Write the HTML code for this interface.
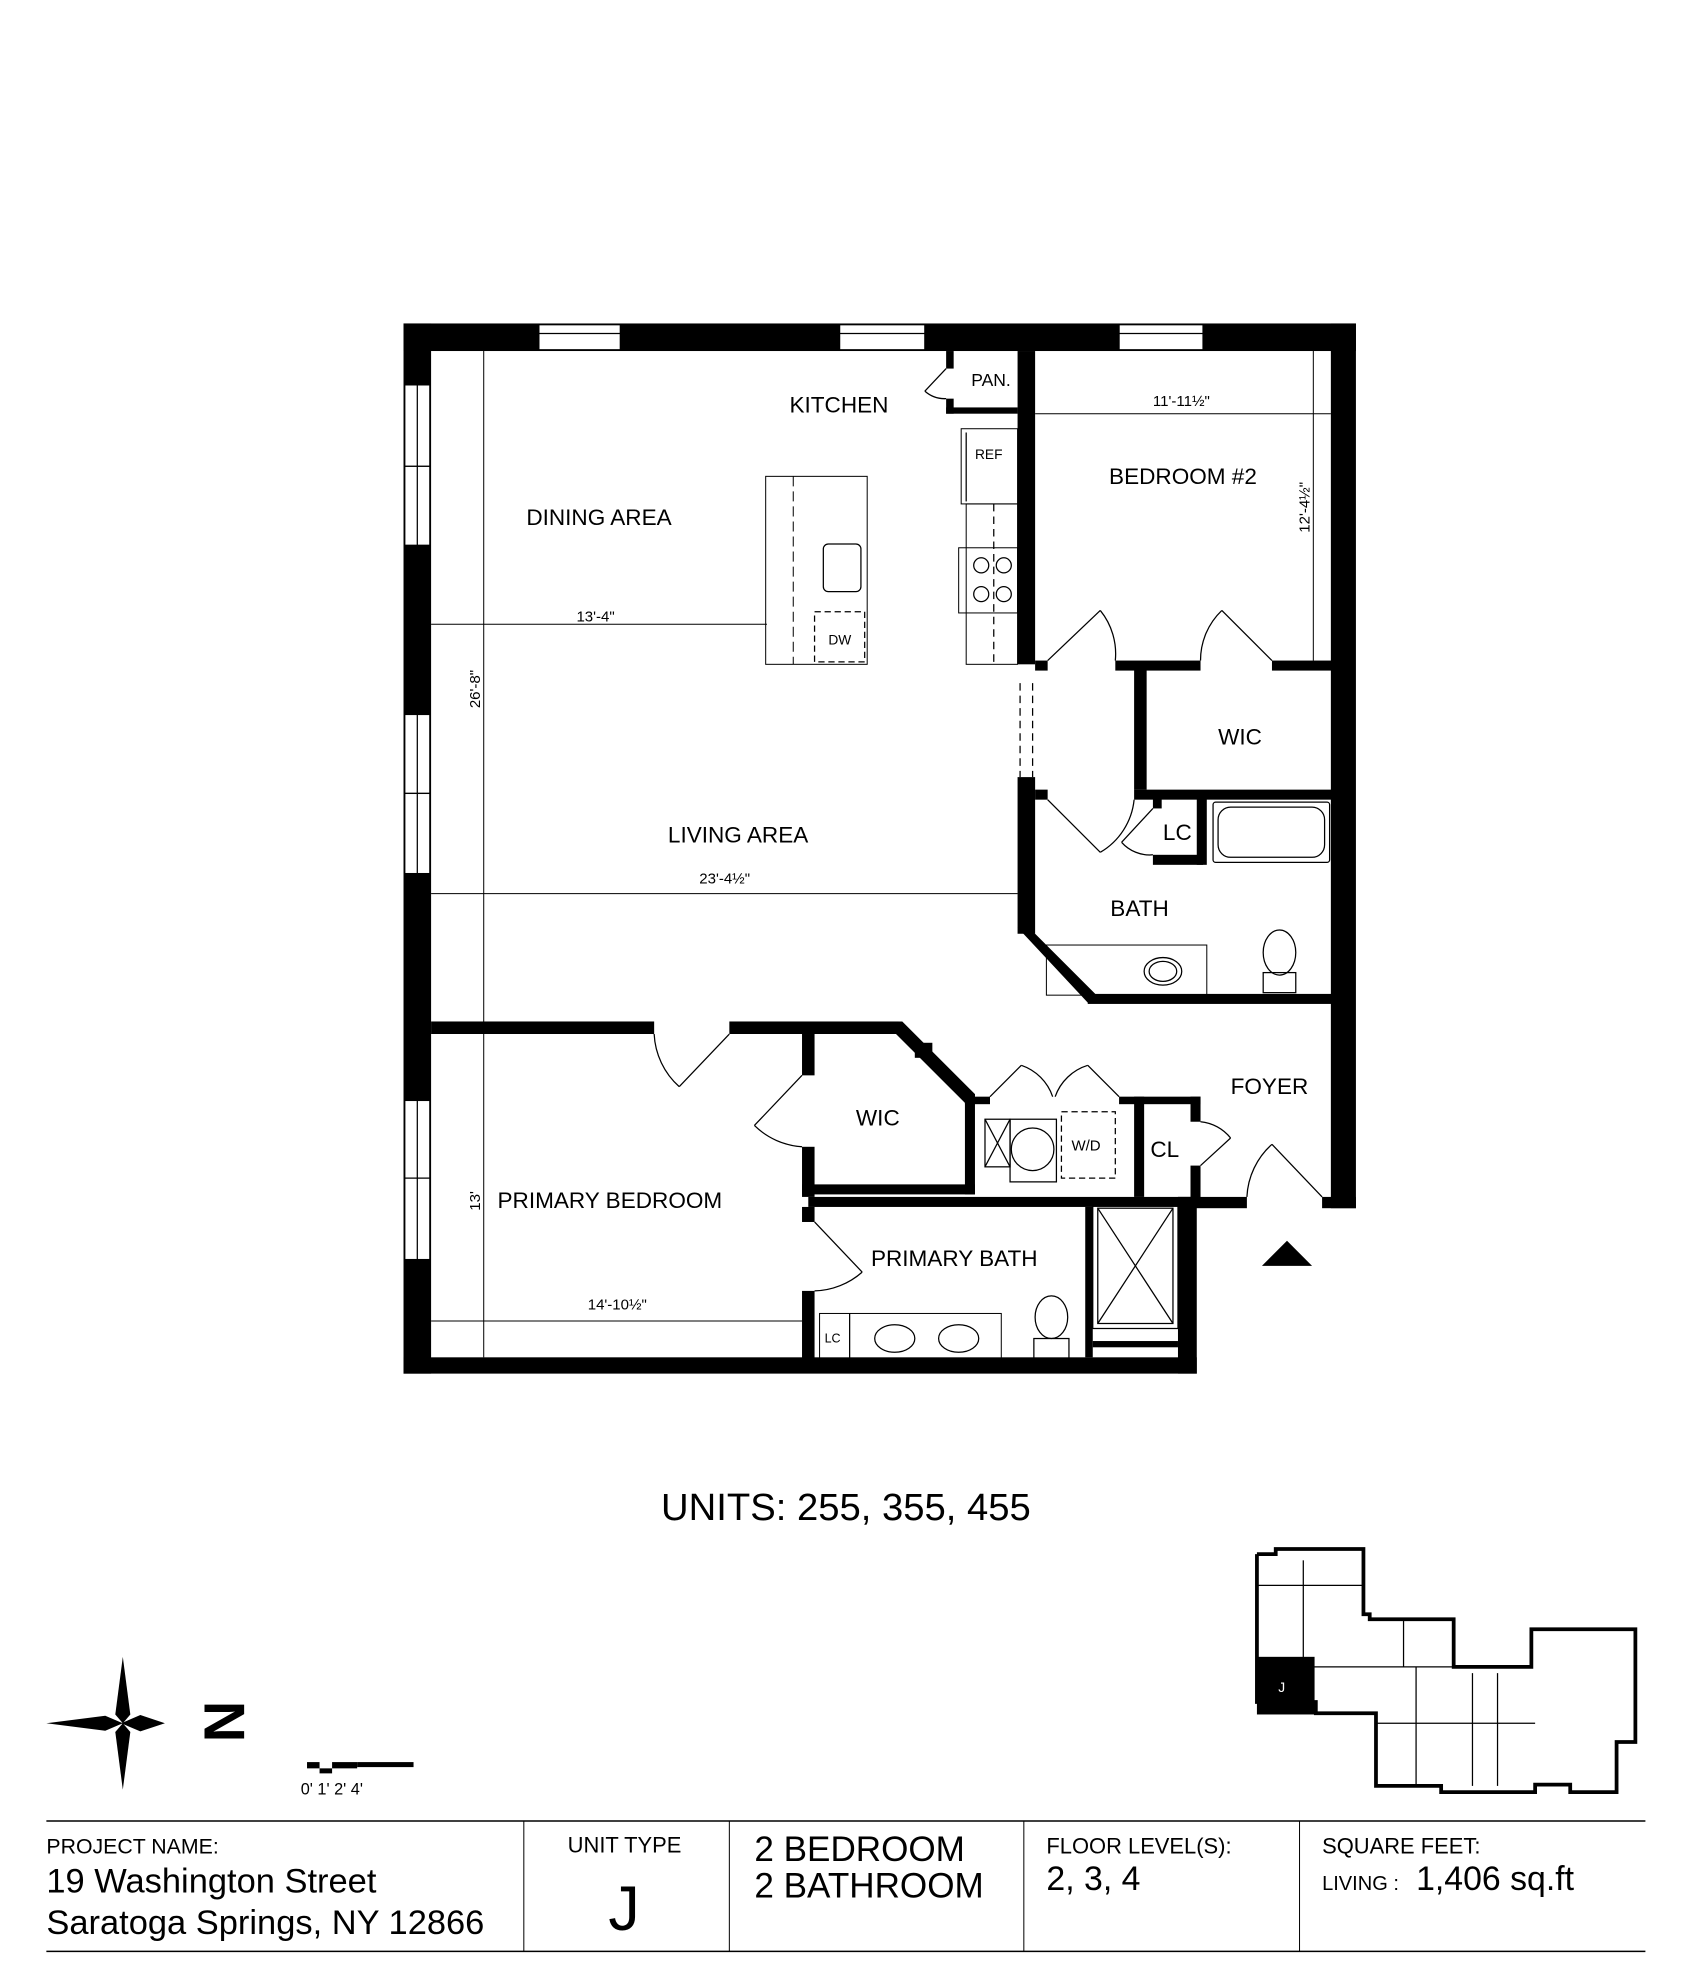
<!DOCTYPE html>
<html><head><meta charset="utf-8"><style>
html,body{margin:0;padding:0;background:#fff}
svg{display:block}
text{font-family:"Liberation Sans",Arial,sans-serif;fill:#000}
</style></head><body>
<svg width="1683" height="1964" viewBox="0 0 1343 1567" xmlns="http://www.w3.org/2000/svg">
<rect width="1343" height="1567" fill="#fff"/>
<g fill="#000">
<rect x="322" y="258" width="760" height="22"/>
<rect x="322" y="258" width="22" height="838"/>
<rect x="322" y="1083" width="633" height="13"/>
<rect x="1062" y="258" width="20" height="706"/>
<rect x="940" y="955" width="15" height="141"/>
<rect x="940" y="955" width="55" height="9"/>
<rect x="1055" y="955" width="27" height="9"/>
<rect x="812" y="280" width="14" height="250"/>
<rect x="812" y="620" width="14" height="125"/>
<polygon points="812,740 826,745 874,793 868,800"/>
<rect x="868" y="793" width="195" height="8"/>
<rect x="755" y="280" width="6" height="14"/>
<rect x="755" y="318" width="6" height="12"/>
<rect x="755" y="325" width="57" height="5"/>
<rect x="826" y="527" width="10" height="8"/>
<rect x="890" y="527" width="68" height="8"/>
<rect x="1015" y="527" width="48" height="8"/>
<rect x="905" y="530" width="10" height="100"/>
<rect x="905" y="630" width="158" height="8"/>
<rect x="826" y="630" width="10" height="8"/>
<rect x="920" y="637" width="7" height="8"/>
<rect x="955" y="637" width="8" height="53"/>
<rect x="920" y="682" width="40" height="8"/>
<rect x="344" y="815" width="178" height="10"/>
<rect x="582" y="815" width="135" height="10"/>
<polygon points="712,815 720,815 778,873 778,880 770,880 712,822"/>
<rect x="730" y="832" width="14" height="12"/>
<rect x="640" y="825" width="10" height="33"/>
<rect x="640" y="915" width="10" height="40"/>
<rect x="640" y="945" width="138" height="8"/>
<rect x="770" y="873" width="8" height="80"/>
<rect x="770" y="875" width="20" height="6"/>
<rect x="893" y="875" width="65" height="6"/>
<rect x="905" y="875" width="8" height="80"/>
<rect x="950" y="875" width="8" height="20"/>
<rect x="950" y="930" width="8" height="33"/>
<rect x="645" y="955" width="310" height="8"/>
<rect x="640" y="963" width="10" height="12"/>
<rect x="640" y="1030" width="10" height="55"/>
<rect x="872" y="1070" width="68" height="5"/>
<rect x="866" y="963" width="6" height="120"/>
</g>
<g fill="#fff" stroke="#000" stroke-width="1">
<rect x="430" y="259" width="65" height="20"/><rect x="670" y="259" width="68" height="20"/><rect x="893" y="259" width="67" height="20"/>
<rect x="323" y="307" width="20" height="65"/><rect x="323" y="372" width="20" height="63"/>
<rect x="323" y="570" width="20" height="63"/><rect x="323" y="633" width="20" height="64"/>
<rect x="323" y="878" width="20" height="62"/><rect x="323" y="940" width="20" height="65"/>
</g>
<g stroke="#000" stroke-width="1" fill="none">
<line x1="430" y1="266" x2="495" y2="266"/><line x1="670" y1="266" x2="738" y2="266"/><line x1="893" y1="266" x2="960" y2="266"/>
<line x1="333" y1="307" x2="333" y2="435"/><line x1="333" y1="570" x2="333" y2="697"/><line x1="333" y1="878" x2="333" y2="1005"/>
<line x1="814" y1="545" x2="814" y2="620" stroke-dasharray="6,4"/><line x1="824" y1="545" x2="824" y2="620" stroke-dasharray="6,4"/>
<line x1="386" y1="280" x2="386" y2="815" stroke-width="0.8"/>
<line x1="386" y1="825" x2="386" y2="1083" stroke-width="0.8"/>
<line x1="344" y1="498" x2="612" y2="498" stroke-width="0.8"/>
<line x1="344" y1="713" x2="812" y2="713" stroke-width="0.8"/>
<line x1="344" y1="1054" x2="640" y2="1054" stroke-width="0.8"/>
<line x1="826" y1="330" x2="1062" y2="330" stroke-width="0.8"/>
<line x1="1048" y1="280" x2="1048" y2="527" stroke-width="0.8"/>
<rect x="611" y="380" width="81" height="150" stroke-width="0.8"/>
<line x1="633" y1="380" x2="633" y2="530" stroke-dasharray="8,4" stroke-width="0.8"/>
<rect x="657" y="434" width="30" height="38" rx="4"/>
<rect x="650" y="488" width="40" height="40" stroke-dasharray="5,3"/>
<rect x="767" y="342" width="45" height="60" stroke-width="0.8"/>
<line x1="771" y1="345" x2="771" y2="400"/>
<rect x="771" y="402" width="41" height="128" stroke-width="0.8"/>
<line x1="793" y1="402" x2="793" y2="530" stroke-dasharray="6,4"/>
<rect x="765" y="437" width="47" height="52" stroke-width="0.8"/>
<circle cx="783" cy="451" r="6"/><circle cx="801" cy="451" r="6"/><circle cx="783" cy="474" r="6"/><circle cx="801" cy="474" r="6"/>
<line x1="755" y1="294" x2="738" y2="312"/><path d="M738,312 A24,24 0 0 0 755,318"/>
<line x1="836" y1="527" x2="878" y2="487"/><path d="M878,487 A55,55 0 0 1 890,527"/>
<line x1="1015" y1="527" x2="975" y2="487"/><path d="M975,487 A55,55 0 0 0 958,527"/>
<line x1="836" y1="638" x2="878" y2="680"/><path d="M878,680 A55,55 0 0 0 905,638"/>
<line x1="920" y1="645" x2="895" y2="672"/><path d="M895,672 A30,30 0 0 0 920,682"/>
<rect x="968" y="640" width="93" height="48" rx="2"/>
<rect x="972" y="644" width="85" height="40" rx="10"/>
<rect x="835" y="754" width="128" height="40" stroke-width="0.8"/>
<ellipse cx="928" cy="775" rx="15" ry="11"/><ellipse cx="928" cy="775" rx="11" ry="8"/>
<ellipse cx="1021" cy="760" rx="13" ry="18"/><rect x="1008" y="776" width="26" height="16"/>
<line x1="582" y1="825" x2="542" y2="867"/><path d="M542,867 A60,60 0 0 1 522,825"/>
<line x1="640" y1="858" x2="602" y2="898"/><path d="M602,898 A60,60 0 0 0 640,915"/>
<line x1="790" y1="875" x2="815" y2="850"/><path d="M815,850 A40,40 0 0 1 840,875"/>
<line x1="893" y1="875" x2="868" y2="850"/><path d="M868,850 A40,40 0 0 0 842,875"/>
<line x1="958" y1="930" x2="982" y2="908"/><path d="M982,908 A35,35 0 0 0 958,895"/>
<line x1="1055" y1="955" x2="1015" y2="913"/><path d="M1015,913 A60,60 0 0 0 995,955"/>
<line x1="650" y1="975" x2="688" y2="1015"/><path d="M688,1015 A60,60 0 0 1 650,1030"/>
<rect x="786" y="893" width="20" height="38"/><line x1="786" y1="893" x2="806" y2="931"/><line x1="806" y1="893" x2="786" y2="931"/>
<rect x="806" y="893" width="37" height="50"/><circle cx="824" cy="917" r="17"/>
<rect x="847" y="887" width="43" height="53" stroke-dasharray="5,3"/>
<rect x="872" y="960" width="68" height="100"/><rect x="876" y="964" width="60" height="92"/>
<line x1="876" y1="964" x2="936" y2="1056"/><line x1="936" y1="964" x2="876" y2="1056"/>
<rect x="654" y="1048" width="145" height="37" stroke-width="0.8"/>
<line x1="678" y1="1048" x2="678" y2="1085"/>
<ellipse cx="714" cy="1068" rx="16" ry="11"/><ellipse cx="765" cy="1068" rx="16" ry="11"/>
<ellipse cx="839" cy="1051" rx="13" ry="17"/><rect x="825" y="1068" width="28" height="16"/>
</g>
<polygon points="1007,1010 1047,1010 1027,990" fill="#000"/>
<g font-size="18">
<text x="630" y="329">KITCHEN</text>
<text x="775" y="308" font-size="14">PAN.</text>
<text x="420" y="419">DINING AREA</text>
<text x="885" y="386">BEDROOM #2</text>
<text x="972" y="594">WIC</text>
<text x="928" y="670">LC</text>
<text x="533" y="672">LIVING AREA</text>
<text x="886" y="731">BATH</text>
<text x="982" y="873">FOYER</text>
<text x="683" y="898">WIC</text>
<text x="918" y="923">CL</text>
<text x="397" y="964">PRIMARY  BEDROOM</text>
<text x="695" y="1010">PRIMARY BATH</text>
</g>
<g font-size="12">
<text x="778" y="366" font-size="11">REF</text>
<text x="661" y="514" font-size="11">DW</text>
<text x="855" y="918" font-size="12">W/D</text>
<text x="658" y="1071" font-size="10">LC</text>
<text x="460" y="496">13'-4"</text>
<text x="558" y="705">23'-4½"</text>
<text x="920" y="324">11'-11½"</text>
<text x="469" y="1045">14'-10½"</text>
<text transform="translate(383,565) rotate(-90)">26'-8"</text>
<text transform="translate(383,966) rotate(-90)">13'</text>
<text transform="translate(1045,425) rotate(-90)">12'-4½"</text>
</g>
<text x="675" y="1213" font-size="30.5" text-anchor="middle">UNITS: 255, 355, 455</text>
<g fill="#000">
<polygon points="98,1322 104,1368 98,1375 92,1368"/>
<polygon points="98,1428 104,1382 98,1375 92,1382"/>
<polygon points="37,1375 84,1369 98,1375 84,1381"/>
<polygon points="130,1375 112,1369 98,1375 112,1381" fill="#fff" stroke="#000"/>
<polygon points="98,1375 112,1369 130,1375 112,1381"/>
</g>
<text x="0" y="0" font-size="46" font-weight="bold" font-family="Liberation Serif" transform="translate(163,1357) rotate(90)">N</text>
<g fill="#000"><rect x="245" y="1406" width="10" height="5"/><rect x="255" y="1411" width="10" height="4"/><rect x="265" y="1406" width="20" height="5"/><rect x="285" y="1406" width="45" height="4"/></g>
<text x="240" y="1432" font-size="13">0'  1'  2'      4'</text>
<g fill="none" stroke="#000" stroke-width="3">
<polyline points="1003,1240 1018,1240 1018,1236 1088,1236 1088,1288 1093,1288 1093,1292 1160,1292 1160,1330 1222,1330 1222,1300 1305,1300 1305,1390 1290,1390 1290,1430 1253,1430 1253,1424 1225,1424 1225,1430 1150,1430 1150,1425 1098,1425 1098,1367 1050,1367 1050,1358 1003,1358 1003,1240"/>
</g>
<rect x="1003" y="1322" width="46" height="46" fill="#000"/>
<text x="1020" y="1350" font-size="11" style="fill:#fff">J</text>
<g stroke="#000" stroke-width="1" fill="none">
<line x1="1040" y1="1245" x2="1040" y2="1330"/><line x1="1003" y1="1265" x2="1088" y2="1265"/>
<line x1="1045" y1="1330" x2="1160" y2="1330"/><line x1="1098" y1="1375" x2="1225" y2="1375"/>
<line x1="1130" y1="1330" x2="1130" y2="1425"/><line x1="1175" y1="1335" x2="1175" y2="1425"/>
<line x1="1195" y1="1335" x2="1195" y2="1425"/><line x1="1120" y1="1292" x2="1120" y2="1330"/>
</g>
<g stroke="#000" stroke-width="1.2">
<line x1="37" y1="1453" x2="1313" y2="1453"/><line x1="37" y1="1557" x2="1313" y2="1557"/>
<line x1="418" y1="1453" x2="418" y2="1557" stroke-width="0.8"/><line x1="582" y1="1453" x2="582" y2="1557" stroke-width="0.8"/>
<line x1="817" y1="1453" x2="817" y2="1557" stroke-width="0.8"/><line x1="1037" y1="1453" x2="1037" y2="1557" stroke-width="0.8"/>
</g>
<text x="37" y="1479" font-size="17">PROJECT NAME:</text>
<text x="37" y="1510" font-size="27.5">19 Washington Street</text>
<text x="37" y="1543" font-size="27.5">Saratoga Springs, NY 12866</text>
<text x="453" y="1478" font-size="17.5">UNIT TYPE</text>
<text x="498" y="1540" font-size="50" text-anchor="middle">J</text>
<text x="602" y="1485" font-size="28">2 BEDROOM</text>
<text x="602" y="1514" font-size="28">2 BATHROOM</text>
<text x="835" y="1479" font-size="17.5">FLOOR LEVEL(S):</text>
<text x="835" y="1508" font-size="27">2, 3, 4</text>
<text x="1055" y="1479" font-size="17.5">SQUARE FEET:</text>
<text x="1055" y="1508" font-size="16">LIVING :</text><text x="1130" y="1508" font-size="27">1,406 sq.ft</text>
</svg>
</body></html>
